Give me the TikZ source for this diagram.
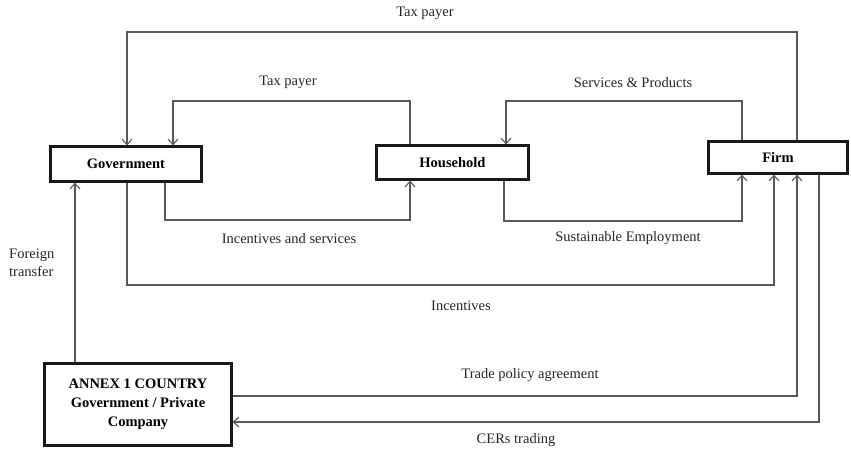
\documentclass[tikz,border=0pt]{standalone}
\usepackage{fontspec}
\setmainfont{Liberation Serif}
\usetikzlibrary{arrows.meta}
\begin{document}
\begin{tikzpicture}[x=1pt,y=-1pt,
  box/.style={draw=black!90, line width=2.2pt, fill=white, inner sep=0pt, font=\fontsize{14.5}{19}\selectfont\bfseries, align=center},
  conn/.style={draw=black!65, line width=1.3pt},
  arr/.style={conn, -{Straight Barb[length=5.5pt,width=10pt,line width=1.1pt]}},
  lbl/.style={font=\fontsize{14.5}{18}\selectfont, text=black!85, inner sep=0pt}]
\useasboundingbox (0,0) rectangle (851,450);
% nodes
\node[box, minimum width=151pt, minimum height=35pt] (gov) at (126,164) {Government};
\node[box, minimum width=152pt, minimum height=34pt] (hh) at (452.5,162.5) {Household};
\node[box, minimum width=139pt, minimum height=32pt] (firm) at (778,157.5) {Firm};
\node[box, minimum width=187pt, minimum height=82pt] (annex) at (138,404.5) {ANNEX 1 COUNTRY\\Government / Private\\Company};
% column coordinates
\coordinate (c75) at (75,0);
\coordinate (c127) at (127,0);
\coordinate (c165) at (165,0);
\coordinate (c173) at (173,0);
\coordinate (c410) at (410,0);
\coordinate (c504) at (504,0);
\coordinate (c506) at (506,0);
\coordinate (c742) at (742,0);
\coordinate (c774) at (774,0);
\coordinate (c797) at (797,0);
\coordinate (c819) at (819,0);
\coordinate (r396) at (0,396);
\coordinate (r422) at (0,422);
% connectors
\draw[arr] (firm.north -| c797) -- (797,32) -- (127,32) -- (gov.north -| c127);
\draw[arr] (hh.north -| c410) -- (410,101) -- (173,101) -- (gov.north -| c173);
\draw[arr] (firm.north -| c742) -- (742,101) -- (506,101) -- (hh.north -| c506);
\draw[arr] (gov.south -| c165) -- (165,220) -- (410,220) -- (hh.south -| c410);
\draw[arr] (hh.south -| c504) -- (504,221) -- (742,221) -- (firm.south -| c742);
\draw[arr] (gov.south -| c127) -- (127,285) -- (774,285) -- (firm.south -| c774);
\draw[arr] (annex.north -| c75) -- (gov.south -| c75);
\draw[arr] (annex.east |- r396) -- (797,396) -- (firm.south -| c797);
\draw[arr] (firm.south -| c819) -- (819,422) -- (annex.east |- r422);
% labels
\node[lbl] (l1) at (425,13) {Tax payer};
\node[lbl] (l2) at (288,82) {Tax payer};
\node[lbl] (l3) at (633,83) {Services \& Products};
\node[lbl] (l4) at (289,239) {Incentives and services};
\node[lbl] (l5) at (628,238) {Sustainable Employment};
\node[lbl] (l6) at (461,306) {Incentives};
\node[lbl, align=left, anchor=west] (l7) at (9,263) {Foreign\\transfer};
\node[lbl] (l8) at (530,375) {Trade policy agreement};
\node[lbl] (l9) at (516,440) {CERs trading};
\end{tikzpicture}
\end{document}
